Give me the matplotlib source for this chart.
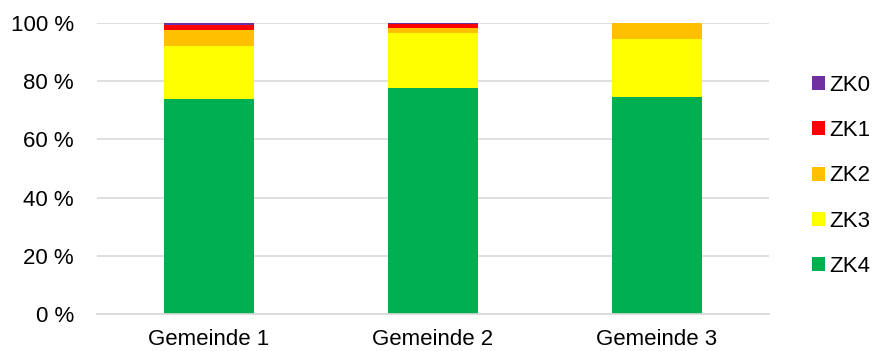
import matplotlib
matplotlib.use("Agg")
import matplotlib.pyplot as plt
from matplotlib.patches import Patch
import numpy as np

plt.rcParams['font.family'] = ['Liberation Sans', 'DejaVu Sans']

categories = ["Gemeinde 1", "Gemeinde 2", "Gemeinde 3"]
zk4 = [74.0, 77.6, 74.4]
zk3 = [18.0, 18.9, 20.0]
zk2 = [5.6, 1.7, 5.5]
zk1 = [1.6, 1.5, 0.1]
zk0 = [0.8, 0.3, 0.0]

series = [("ZK4", zk4, "#00B050"), ("ZK3", zk3, "#FFFF00"), ("ZK2", zk2, "#FFC000"),
          ("ZK1", zk1, "#FF0000"), ("ZK0", zk0, "#7030A0")]

fig = plt.figure(figsize=(8.76, 3.51), dpi=100)
ax = fig.add_axes([97/876, 37/351, 672/876, 291/351])

x = np.arange(len(categories))
bottom = np.zeros(len(categories))
for name, vals, col in series:
    ax.bar(x, vals, width=0.4, bottom=bottom, color=col, zorder=3)
    bottom += np.array(vals)

ax.set_xlim(-0.5, 2.5)
ax.set_ylim(0, 100)
ax.set_yticks(range(0, 101, 20))
ax.set_yticklabels([f"{v} %" for v in range(0, 101, 20)])
ax.set_xticks(x)
ax.set_xticklabels(categories)
ax.tick_params(axis='both', length=0, labelsize=16, colors='#000000')
ax.tick_params(axis='y', pad=16.5)
ax.tick_params(axis='x', pad=11)
ax.grid(axis='y', color='#D9D9D9', linewidth=1.2, zorder=0)
for s in ['left', 'right', 'top']:
    ax.spines[s].set_visible(False)
ax.spines['bottom'].set_color('#D9D9D9')
ax.spines['bottom'].set_linewidth(1.2)
ax.spines['bottom'].set_zorder(4)

handles = [Patch(facecolor=c, label=n) for n, v, c in series[::-1]]
fig.legend(handles=handles, loc='upper left', bbox_to_anchor=(812/876, 1 - 75/351),
           frameon=False, fontsize=16, handlelength=0.59, handleheight=0.59,
           handletextpad=0.18, labelspacing=1.09, borderpad=0, borderaxespad=0)

fig.savefig("out.png", dpi=100)
